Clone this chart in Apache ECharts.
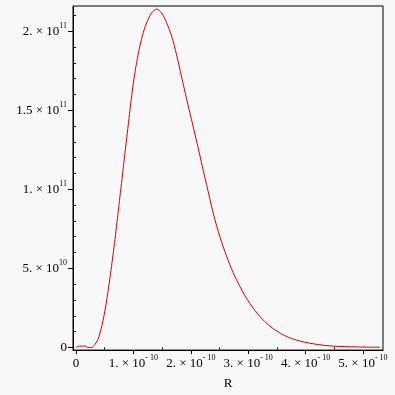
<!DOCTYPE html>
<html><head><meta charset="utf-8">
<script src="https://cdn.jsdelivr.net/npm/echarts@6/dist/echarts.min.js"></script>
<style>html,body{margin:0;padding:0;background:#f8f8f8}#c{width:395px;height:395px}</style>
</head><body><div id="c"></div>
<script>
// R in units of 1e-10; curve value in units of 1e9
const rValues = [0, 0.057, 0.174, 0.197, 0.278, 0.331, 0.383, 0.418, 0.453, 0.487, 0.522, 0.557, 0.592, 0.627, 0.661, 0.696, 0.731, 0.766, 0.801, 0.836, 0.883, 0.923, 0.963, 1.010, 1.057, 1.114, 1.171, 1.231, 1.318, 1.405, 1.492, 1.579, 1.666, 1.753, 1.840, 1.927, 1.984, 2.042, 2.101, 2.158, 2.216, 2.275, 2.332, 2.390, 2.449, 2.507, 2.564, 2.623, 2.681, 2.738, 2.797, 2.855, 2.942, 3.029, 3.116, 3.203, 3.290, 3.377, 3.464, 3.580, 3.695, 3.842, 3.986, 4.131, 4.305, 4.479, 4.886, 5.292];
const pValues = [0, 0.8, 0.8, 0, 0, 1.9, 5.0, 9.1, 14.0, 19.8, 26.9, 35.2, 44.0, 53.5, 63.0, 73.5, 84.2, 95.5, 106.3, 117.6, 132.2, 144.7, 157.0, 169.8, 180.2, 190.6, 199.0, 205.3, 211.5, 214.0, 211.5, 205.3, 196.9, 185.0, 171.0, 157.3, 148.5, 139.5, 130.5, 121.5, 112.0, 103.0, 94.0, 85.0, 77.0, 70.0, 63.8, 57.8, 52.3, 47.3, 42.8, 38.6, 32.8, 27.8, 23.5, 19.6, 16.3, 13.5, 11.2, 8.6, 6.5, 4.6, 3.3, 2.3, 1.4, 0.8, 0.3, 0.1];

const xMajorTicks = [0, 1, 2, 3, 4, 5];
const xMinorTicks = [0.5, 1.5, 2.5, 3.5, 4.5];
const xTickMantissa = ['0', '1.', '2.', '3.', '4.', '5.'];
const xTickExponent = '- 10';
const yMajorTicks = [0, 50, 100, 150, 200];
const yMinorTicks = [10, 20, 30, 40, 60, 70, 80, 90, 110, 120, 130, 140, 160, 170, 180, 190, 210];
const yTickMantissa = ['0', '5.', '1.', '1.5', '2.'];
const yTickExponent = ['', '10', '11', '11', '11'];
const xAxisName = 'R';

const FONT = 'Liberation Serif';
const rich = {
  m: { fontFamily: FONT, fontSize: 13, lineHeight: 18, color: '#000' },
  e: { fontFamily: FONT, fontSize: 8, lineHeight: 8, padding: [0, 0, 10, 0], color: '#000' }
};
function fmt(mant, exp) {
  if (!exp) return '{m|' + mant + '}';
  return '{m|' + mant + ' × 10}{e|' + exp + '}';
}

const xMin = -0.052, xMax = 5.349, yMin = -1.7, yMax = 215.9;
const chart = echarts.init(document.getElementById('c'));
chart.setOption({
  backgroundColor: '#f8f8f8',
  animation: false,
  grid: { left: 73, right: 12, top: 6, bottom: 41, show: true, borderColor: '#000', borderWidth: 1, backgroundColor: 'transparent' },
  xAxis: [{
    type: 'value', min: xMin, max: xMax,
    name: xAxisName, nameLocation: 'middle', nameGap: 20,
    nameTextStyle: { fontFamily: FONT, fontSize: 13, color: '#000' },
    axisLine: { show: true, onZero: false, lineStyle: { color: '#000', width: 1 } },
    axisTick: { show: true, customValues: xMajorTicks, length: 4, lineStyle: { color: '#000' } },
    axisLabel: {
      show: true, customValues: xMajorTicks, margin: 4, rich: rich,
      formatter: function (v) { const i = xMajorTicks.indexOf(v); return i <= 0 ? fmt('0', '') : fmt(xTickMantissa[i], xTickExponent); }
    },
    splitLine: { show: false }
  }, {
    type: 'value', min: xMin, max: xMax, position: 'bottom',
    axisLine: { show: false },
    axisTick: { show: true, customValues: xMinorTicks, length: 2, lineStyle: { color: '#000' } },
    axisLabel: { show: false }, splitLine: { show: false }
  }],
  yAxis: [{
    type: 'value', min: yMin, max: yMax,
    axisLine: { show: true, onZero: false, lineStyle: { color: '#000', width: 1 } },
    axisTick: { show: true, customValues: yMajorTicks, length: 5, lineStyle: { color: '#000' } },
    axisLabel: {
      show: true, customValues: yMajorTicks, margin: 6, rich: rich,
      formatter: function (v) { const i = yMajorTicks.indexOf(v); return fmt(yTickMantissa[i], yTickExponent[i]); }
    },
    splitLine: { show: false }
  }, {
    type: 'value', min: yMin, max: yMax, position: 'left',
    axisLine: { show: false },
    axisTick: { show: true, customValues: yMinorTicks, length: 3, lineStyle: { color: '#000' } },
    axisLabel: { show: false }, splitLine: { show: false }
  }],
  series: [{
    type: 'line', xAxisIndex: 0, yAxisIndex: 0,
    data: rValues.map(function (r, i) { return [r, pValues[i]]; }),
    showSymbol: false, smooth: 0.3,
    lineStyle: { color: '#d40000', width: 1 }
  }]
});
</script></body></html>
